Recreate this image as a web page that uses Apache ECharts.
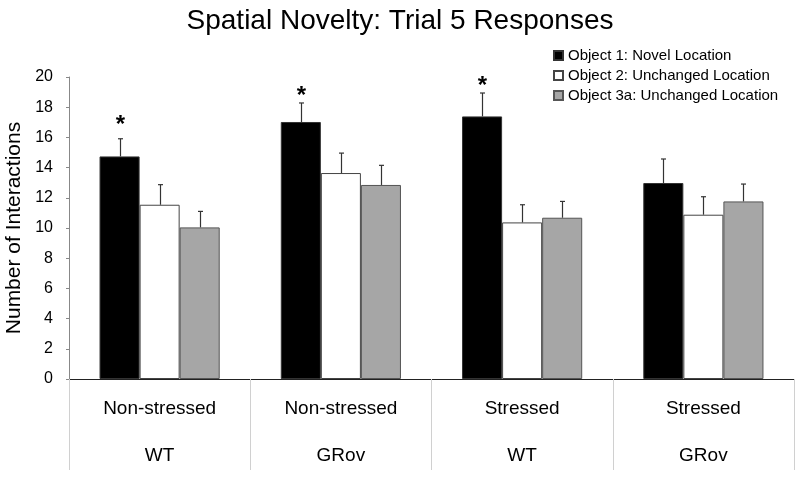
<!DOCTYPE html>
<html>
<head>
<meta charset="utf-8">
<script src="https://cdn.jsdelivr.net/npm/echarts@6/dist/echarts.min.js"></script>
<style>
html,body{margin:0;padding:0;background:#fff;}
#chart{width:800px;height:478px;}
</style>
</head>
<body>
<div id="chart"></div>
<script>
// ---- data ----
const stressLabels = ['Non-stressed', 'Non-stressed', 'Stressed', 'Stressed'];
const genotypeLabels = ['WT', 'GRov', 'WT', 'GRov'];
const seriesNames = ['Object 1: Novel Location', 'Object 2: Unchanged Location', 'Object 3a: Unchanged Location'];
const object1 = [14.74, 17.02, 17.39, 12.98];
const object2 = [11.54, 13.64, 10.37, 10.88];
const object3a = [10.04, 12.85, 10.68, 11.76];
const err1 = [1.17, 1.26, 1.55, 1.59];
const err2 = [1.33, 1.32, 1.17, 1.19];
const err3 = [1.06, 1.30, 1.08, 1.15];
const starLevel = [17.1, 19.05, 19.7, null]; // position of significance asterisk (object 1)
const yTicks = {min: 0, max: 20, interval: 2};

const GAP = 0.337;
const categories = stressLabels.map((s, i) => s + '\n' + genotypeLabels[i]);
const values = [object1, object2, object3a];
const errs = [err1, err2, err3];

const errData = [];
values.forEach((arr, s) => arr.forEach((v, c) => errData.push([c, s, v, errs[s][c], s === 0 && starLevel[c] != null ? starLevel[c] : -1])));

const fontFam = '"Liberation Sans", Arial, sans-serif';
const chart = echarts.init(document.getElementById('chart'), null, {renderer: 'canvas'});
chart.setOption({
  animation: false,
  textStyle: {fontFamily: fontFam},
  title: {
    text: 'Spatial Novelty: Trial 5 Responses',
    left: 'center', top: 7, padding: 0,
    textStyle: {fontSize: 28, fontWeight: 'normal', color: '#000', fontFamily: fontFam}
  },
  legend: {
    data: seriesNames,
    orient: 'vertical',
    left: 553, top: 48, padding: 0,
    icon: 'rect', itemWidth: 9, itemHeight: 9, itemGap: 5,
    textStyle: {fontSize: 15, color: '#000', fontFamily: fontFam}
  },
  grid: {left: 69, right: 6, top: 77, bottom: 99, containLabel: false, outerBoundsMode: 'none'},
  xAxis: {
    type: 'category',
    data: categories,
    axisLine: {lineStyle: {color: '#222', width: 1}},
    axisTick: {show: true, interval: 0, length: 91, lineStyle: {color: '#d0d0d0'}},
    axisLabel: {interval: 0, margin: 6, fontSize: 19, lineHeight: 47, color: '#000', fontFamily: fontFam}
  },
  yAxis: {
    type: 'value',
    min: yTicks.min, max: yTicks.max, interval: yTicks.interval,
    name: 'Number of Interactions',
    nameLocation: 'middle', nameGap: 40,
    nameTextStyle: {fontSize: 21, color: '#000', fontFamily: fontFam},
    axisLine: {show: true, lineStyle: {color: '#888'}},
    axisTick: {show: true, length: 3, lineStyle: {color: '#888'}},
    splitLine: {show: false},
    axisLabel: {fontSize: 16, color: '#000', margin: 16, fontFamily: fontFam}
  },
  series: [
    {name: seriesNames[0], type: 'bar', data: object1, barGap: '0%', barCategoryGap: (GAP * 100) + '%',
     itemStyle: {color: '#000', borderColor: '#333', borderWidth: 1}},
    {name: seriesNames[1], type: 'bar', data: object2,
     itemStyle: {color: '#fff', borderColor: '#444', borderWidth: 1}},
    {name: seriesNames[2], type: 'bar', data: object3a,
     itemStyle: {color: '#a6a6a6', borderColor: '#555', borderWidth: 1}},
    {
      type: 'custom', name: 'errors', z: 5,
      data: errData,
      encode: {x: 0, y: 2},
      renderItem: function (params, api) {
        const c = api.value(0), s = api.value(1), v = api.value(2), e = api.value(3), star = api.value(4);
        const catW = api.size([1, 0])[0];
        const bw = catW * (1 - GAP) / 3;
        const p0 = api.coord([c, v]);
        const p1 = api.coord([c, v + e]);
        const x = Math.round(p0[0] + (s - 1) * bw) + 0.5;
        const children = [
          {type: 'line', shape: {x1: x, y1: p0[1], x2: x, y2: p1[1]}, style: {stroke: '#333', lineWidth: 1.2}},
          {type: 'line', shape: {x1: x - 2.5, y1: p1[1], x2: x + 2.5, y2: p1[1]}, style: {stroke: '#333', lineWidth: 1.2}}
        ];
        if (star >= 0) {
          const ps = api.coord([c, star]);
          children.push({type: 'text', x: x, y: ps[1] + 5,
            style: {text: '*', fontSize: 24, fontWeight: 'bold', fill: '#000', align: 'center', verticalAlign: 'middle', fontFamily: fontFam}});
        }
        return {type: 'group', children: children};
      }
    }
  ]
});
</script>
</body>
</html>
